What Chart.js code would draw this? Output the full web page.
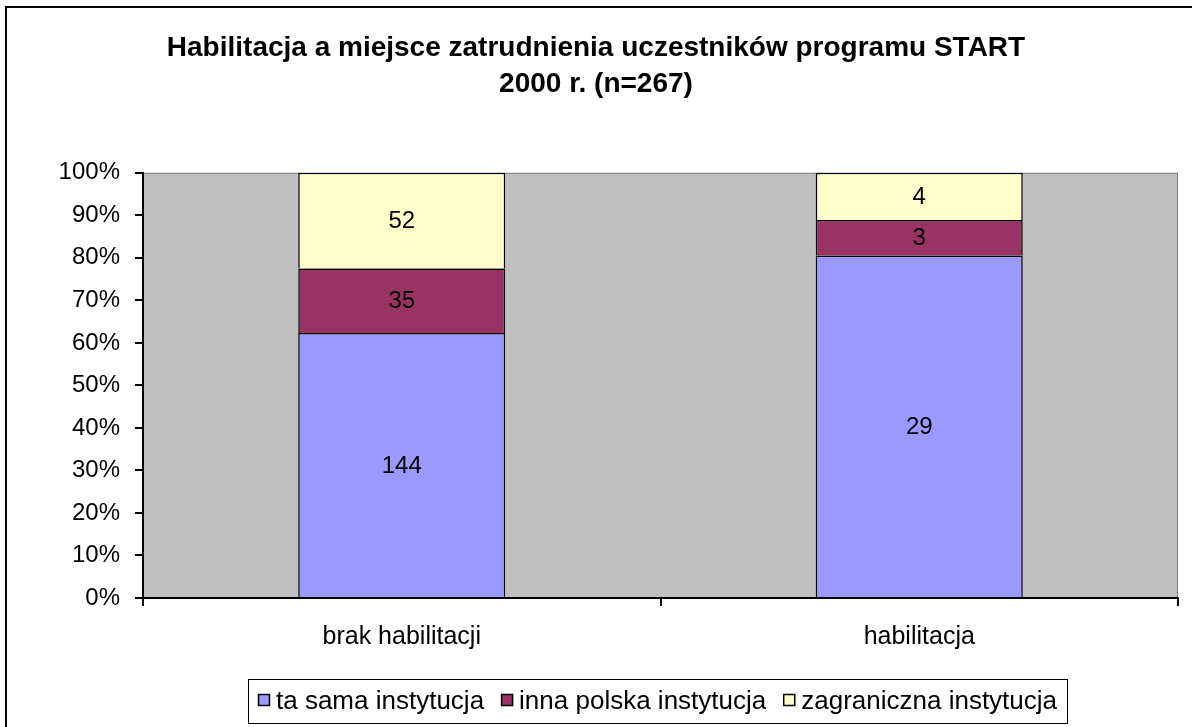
<!DOCTYPE html>
<html>
<head>
<meta charset="utf-8">
<script src="https://cdn.jsdelivr.net/npm/chart.js@4"></script>
<style>
  body { margin: 0; background: #fff; }
  canvas { display: block; }
</style>
</head>
<body>
<canvas id="myChart" width="1192" height="727"></canvas>
<script>
  const categories = ['brak habilitacji', 'habilitacja'];
  const seriesNames = ['ta sama instytucja', 'inna polska instytucja', 'zagraniczna instytucja'];
  const taSama = [144, 29];
  const innaPolska = [35, 3];
  const zagraniczna = [52, 4];
  const seriesColors = ['#9999FF', '#993366', '#FFFFCC'];
  const titleLines = ['Habilitacja a miejsce zatrudnienia uczestników programu START', '2000 r. (n=267)'];
  const yMax = 100;
  const yStep = 10;

  const FONT = "'Liberation Sans', Arial, sans-serif";

  // 100% stacked: turn counts into shares of each category total
  const counts = [taSama, innaPolska, zagraniczna];
  const totals = categories.map((c, i) => counts.reduce((s, arr) => s + arr[i], 0));

  const datasets = counts.map((arr, k) => ({
    label: seriesNames[k],
    counts: arr,
    data: arr.map((v, i) => v / totals[i] * 100),
    backgroundColor: seriesColors[k],
    borderColor: '#000',
    borderWidth: 1.5,
    barPercentage: 0.4,
    categoryPercentage: 1
  }));

  // white page, outer frame, grey plot area
  const backgroundPlugin = {
    id: 'background',
    beforeDraw(chart) {
      const ctx = chart.ctx;
      const a = chart.chartArea;
      ctx.save();
      ctx.fillStyle = '#fff';
      ctx.fillRect(0, 0, chart.width, chart.height);
      ctx.strokeStyle = '#000';
      ctx.lineWidth = 2;
      ctx.strokeRect(6, 7, chart.width + 20, chart.height + 20);
      ctx.fillStyle = '#C0C0C0';
      ctx.fillRect(a.left, a.top, a.right - a.left, a.bottom - a.top);
      ctx.strokeStyle = '#808080';
      ctx.lineWidth = 1;
      ctx.strokeRect(a.left + 0.5, a.top + 0.5, a.right - a.left - 1, a.bottom - a.top - 1);
      ctx.restore();
    }
  };

  // raw counts written in the middle of each segment
  const valueLabels = {
    id: 'valueLabels',
    afterDatasetsDraw(chart) {
      const ctx = chart.ctx;
      ctx.save();
      ctx.font = '24px ' + FONT;
      ctx.fillStyle = '#000';
      ctx.textAlign = 'center';
      ctx.textBaseline = 'middle';
      chart.data.datasets.forEach((ds, k) => {
        chart.getDatasetMeta(k).data.forEach((bar, i) => {
          ctx.fillText(String(ds.counts[i]), bar.x, (bar.y + bar.base) / 2 + 1);
        });
      });
      ctx.restore();
    }
  };

  // legend in a framed box under the axis
  const boxLegend = {
    id: 'boxLegend',
    afterDraw(chart) {
      const ctx = chart.ctx;
      ctx.save();
      ctx.font = '26px ' + FONT;
      const pad = 10, sq = 12, gap = 6, between = 17;
      const items = chart.data.datasets.map(ds => ({
        text: ds.label, color: ds.backgroundColor, w: ctx.measureText(ds.label).width
      }));
      let total = pad * 2 + between * (items.length - 1);
      items.forEach(it => { total += sq + gap + it.w; });
      const cx = (chart.chartArea.left + chart.chartArea.right) / 2 - 3;
      const left = Math.round(cx - total / 2);
      const top = chart.height - 48;
      const h = 44;
      ctx.strokeStyle = '#000';
      ctx.lineWidth = 1;
      ctx.strokeRect(left + 0.5, top + 0.5, total, h);
      let x = left + pad;
      ctx.textBaseline = 'middle';
      ctx.textAlign = 'left';
      items.forEach(it => {
        ctx.fillStyle = it.color;
        ctx.fillRect(x, top + 15, sq, sq);
        ctx.strokeStyle = '#000';
        ctx.lineWidth = 1.5;
        ctx.strokeRect(x + 0.5, top + 15.5, sq - 1, sq - 1);
        ctx.fillStyle = '#000';
        ctx.fillText(it.text, x + sq + gap, top + 23);
        x += sq + gap + it.w + between;
      });
      ctx.restore();
    }
  };

  const ctx = document.getElementById('myChart').getContext('2d');
  new Chart(ctx, {
    type: 'bar',
    data: { labels: categories, datasets: datasets },
    plugins: [backgroundPlugin, valueLabels, boxLegend],
    options: {
      responsive: false,
      animation: false,
      layout: { padding: { left: 14, right: 14, top: 20, bottom: 75 } },
      plugins: {
        legend: { display: false },
        tooltip: { enabled: false },
        title: {
          display: true,
          text: titleLines,
          color: '#000',
          font: { family: FONT, size: 28, weight: 'bold', lineHeight: 1.3 },
          padding: { top: 10, bottom: 70 }
        }
      },
      scales: {
        x: {
          stacked: true,
          grid: {
            offset: true,
            drawOnChartArea: false,
            drawTicks: true,
            tickLength: 8,
            color: '#000',
            lineWidth: 2
          },
          border: { display: true, color: '#000', width: 2 },
          ticks: { color: '#000', padding: 16, font: { family: FONT, size: 25 } },
          afterFit(scale) { scale.height = 54; }
        },
        y: {
          stacked: true,
          min: 0,
          max: yMax,
          grid: {
            drawOnChartArea: false,
            drawTicks: true,
            tickLength: 8,
            color: '#000',
            lineWidth: 2
          },
          border: { display: true, color: '#000', width: 2 },
          ticks: {
            stepSize: yStep,
            color: '#000',
            padding: 15,
            font: { family: FONT, size: 24 },
            callback: v => v + '%'
          },
          afterFit(scale) { scale.width = 129; }
        }
      }
    }
  });
</script>
</body>
</html>
